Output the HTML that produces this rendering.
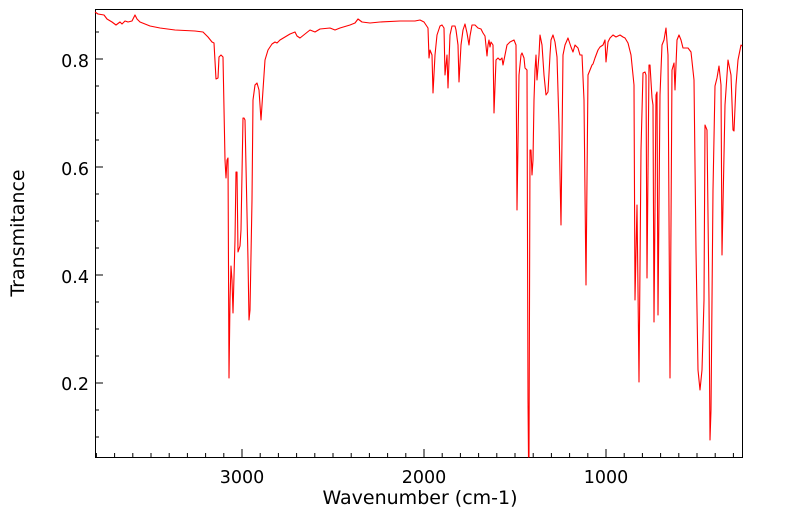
<!DOCTYPE html>
<html><head><meta charset="utf-8"><style>
html,body{margin:0;padding:0;background:#fff;width:799px;height:516px;overflow:hidden}
text{font-family:"DejaVu Sans","Liberation Sans",sans-serif;fill:#000}
</style></head><body>
<svg width="799" height="516" viewBox="0 0 799 516" xmlns="http://www.w3.org/2000/svg">
<rect x="95.5" y="9.5" width="647" height="448" fill="none" stroke="#000" stroke-width="1"/>
<g stroke="#000" stroke-width="1" id="xt"></g>
<g stroke="#000" stroke-width="1" id="yt"></g>
<g font-size="17.5" text-anchor="middle">
<text x="242" y="483">3000</text><text x="424" y="483">2000</text><text x="606" y="483">1000</text>
</g>
<text font-size="19" text-anchor="middle" x="420" y="504">Wavenumber (cm-1)</text>
<g font-size="17.5" text-anchor="end">
<text x="89" y="67">0.8</text><text x="89" y="175">0.6</text><text x="89" y="283">0.4</text><text x="89" y="390">0.2</text>
</g>
<text font-size="19" text-anchor="middle" transform="translate(24,233) rotate(-90)">Transmitance</text>
<polyline fill="none" stroke="#f00" stroke-width="1.1" stroke-linejoin="round" points="
95,12 98,14 104,15 107,19 112,22 116,25 120,22 122,24 125,21 128,22 132,21 135,15 137,19 140,22 150,26 160,28 175,30 195,31 203,32 208,37 212,42 214,43 216,79 218,78 219,57 221,55 223,57 225,160 226,178 227,160 228,158 229,378 230,300 231,266 232,280 233,313 235,240 236,172 237,172 238,252 240,246 241,230 243,118 244,118 245,120 248,260 249,320 250,310 252,200 253,100 255,85 257,83 259,90 261,120 263,90 265,60 268,50 272,44 275,42 277,43 280,40 285,37 290,34 295,32 297,36 300,38 305,34 310,30 315,32 320,29 330,28 335,30 340,28 350,25 355,23 358,19 362,22 370,23 380,22 400,21 415,21 420,20 424,22 428,28 429,58 430,50 432,55 433,93 435,55 437,35 440,26 442,25 444,28 445,75 446,65 447,55 448,88 450,35 452,26 455,26 456,30 458,45 459,82 461,45 463,30 465,24 467,33 469,45 470,36 472,25 475,25 478,28 481,29 483,33 485,36 487,56 488,45 489,40 490,47 491,42 493,45 494,113 496,60 498,58 500,60 502,58 503,65 505,55 507,45 510,42 514,40 516,45 517,210 519,75 521,55 522,53 524,58 525,68 527,70 528,400 528.5,457 529,457 530,150 531,150 532,175 533,160 534,100 535,70 536,55 537,80 539,55 540,35 542,45 544,75 546,95 548,92 550,55 551,40 553,35 555,42 557,57 559,125 561,225 563,55 565,45 568,38 571,47 573,52 575,45 578,48 580,55 582,55 584,100 586,285 588,75 590,70 592,65 593,64 595,58 598,50 600,47 603,45 605,40 606,62 608,42 610,38 613,35 616,37 620,35 623,37 625,38 628,43 631,55 634,85 635,300 637,205 638,290 639,382 641,150 643,73 645,72 646,75 647,278 649,65 650,65 652,98 653,105 654,322 656,95 657,92 658,315 660,95 662,45 664,40 666,28 668,55 670,378 672,70 674,63 675,90 677,40 679,35 681,40 683,48 688,48 691,52 694,80 696,250 698,370 700,390 702,370 704,300 705,125 707,130 709,300 710,440 711,410 713,190 715,86 717,78 719,66 721,85 722,255 725,105 728,60 731,75 733,130 734,131 736,85 738,60 741,45 742,46"/>
<script>
var ns="http://www.w3.org/2000/svg",xt=document.getElementById('xt'),yt=document.getElementById('yt');
for(var w=3800;w>=300;w-=100){var x=242+(3000-w)*0.182;var l=document.createElementNS(ns,'line');var big=(w%1000==0);
l.setAttribute('x1',x);l.setAttribute('x2',x);l.setAttribute('y1',457);l.setAttribute('y2',big?449:453);xt.appendChild(l);}
for(var v=0.1;v<=0.89;v+=0.05){var y=383-(v-0.2)*540;var big=Math.abs((v*10)%2)<0.01||Math.abs((v*10)%2-2)<0.01;var l=document.createElementNS(ns,'line');
l.setAttribute('x1',95);l.setAttribute('x2',big?103:99);l.setAttribute('y1',y);l.setAttribute('y2',y);yt.appendChild(l);}
</script>
</svg>
</body></html>
